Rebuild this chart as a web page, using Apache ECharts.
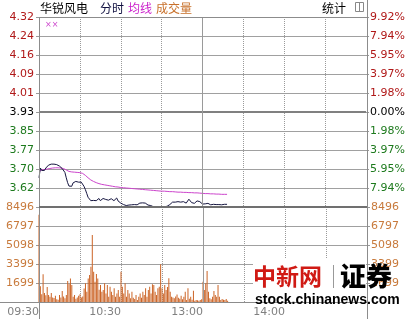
<!DOCTYPE html>
<html>
<head>
<meta charset="utf-8">
<script src="https://cdn.jsdelivr.net/npm/echarts@6/dist/echarts.min.js"></script>
<style>
html,body{margin:0;padding:0;background:#fff;}
#main{width:408px;height:319px;}
</style>
</head>
<body>
<div id="main"></div>
<script>
// ---- data ----
const priceValues = [
3.66,3.70,3.69,3.685,3.69,3.70,3.705,3.712,3.716,3.716,
3.716,3.716,3.716,3.714,3.710,3.708,3.703,3.698,3.692,3.682,
3.660,3.640,3.626,3.634,3.625,3.639,3.632,3.645,3.646,3.642,
3.636,3.642,3.634,3.625,3.612,3.596,3.580,3.572,3.566,3.569,
3.567,3.570,3.566,3.570,3.575,3.566,3.572,3.575,3.567,3.571,
3.575,3.568,3.570,3.574,3.572,3.566,3.570,3.577,3.565,3.560,
3.556,3.548,3.550,3.548,3.546,3.550,3.548,3.552,3.549,3.546,
3.550,3.553,3.549,3.552,3.556,3.554,3.557,3.553,3.556,3.550,
3.548,3.550,3.546,3.543,3.541,3.542,3.541,3.541,3.542,3.541,
3.541,3.542,3.541,3.541,3.543,3.541,3.550,3.557,3.560,3.561,
3.560,3.561,3.562,3.561,3.560,3.561,3.562,3.560,3.556,3.563,
3.572,3.564,3.558,3.562,3.555,3.560,3.565,3.558,3.562,3.554,
3.552,3.550,3.553,3.550,3.555,3.552,3.549,3.554,3.551,3.556,
3.550,3.555,3.550,3.553,3.549,3.554,3.551,3.552,3.551
];
const avgValues = [
3.685,3.690,3.692,3.693,3.694,3.695,
3.696,3.697,3.698,3.699,3.700,3.700,3.701,3.701,3.701,3.701,3.700,3.699,3.698,
3.696,3.692,3.688,3.686,3.685,3.684,3.684,3.683,3.683,3.682,3.682,3.681,3.680,3.678,3.675,
3.670,3.665,3.660,3.655,3.651,3.648,3.645,3.642,3.640,3.638,3.636,3.634,3.633,3.632,3.631,3.630,3.629,3.628,3.627,3.626,3.625,3.624,3.623,3.623,3.622,3.621,3.620,
3.619,3.619,3.618,3.618,3.617,3.617,3.616,3.616,3.615,3.615,
3.614,3.614,3.613,3.613,3.612,3.612,3.611,3.611,3.610,3.610,3.609,3.609,3.608,3.608,3.607,3.607,3.606,3.606,3.606,3.605,3.605,3.605,3.604,3.604,3.604,
3.603,3.603,3.603,3.602,3.602,3.602,3.601,3.601,3.601,3.600,3.600,3.600,3.600,3.599,3.599,3.599,3.599,3.598,3.598,3.598,3.598,3.597,3.597,3.597,3.596,
3.596,3.595,3.595,3.595,3.594,3.594,3.594,3.594,3.593,3.593,3.593,3.593,3.592,3.592,3.592,3.592,3.592,3.592
];
const volumeValues = [
7800,1400,700,2480,800,600,1340,630,480,800,
400,360,560,250,200,630,400,980,500,330,
630,1880,1600,2100,1520,480,630,300,400,560,
700,400,500,1200,1670,920,2100,2410,3160,5990,
2710,1800,2500,2100,1100,1520,920,1070,1670,770,
1520,480,1370,920,630,1220,480,770,1070,480,
2710,1370,770,1670,480,1070,770,330,920,390,
270,630,180,480,770,390,920,630,1220,480,
1070,1370,770,1580,1520,920,630,1220,1370,3370,
1220,770,1520,1070,1340,2120,920,480,400,330,
500,680,390,300,560,250,480,920,180,1220,
300,480,200,1000,120,180,150,120,180,250,
1820,1070,1670,2770,920,330,250,480,980,630,
480,1520,480,180,270,200,180,270,120
];
const priceTickLabels = ['', '3.62', '3.70', '3.77', '3.85', '3.93', '4.01', '4.09', '4.16', '4.24', '4.32'];
const pctTickLabels = ['', '7.94%', '5.95%', '3.97%', '1.98%', '0.00%', '1.98%', '3.97%', '5.95%', '7.94%', '9.92%'];
const volTickLabels = ['', '1699', '3399', '5098', '6797', '8496'];
const timeTickLabels = {0: '09:30', 60: '10:30', 120: '13:00', 180: '14:00'};
const prevClose = 3.93;
const priceMin = 3.54, priceMax = 4.32;
const pctLimit = 9.92, pctStep = 1.984;
const volMax = 8496, volStep = 1699.2;

// minute categories 09:30-11:30, 13:01-15:00
const categories = [];
function pad(n){return (n<10?'0':'')+n;}
for (let m = 9*60+30; m <= 11*60+30; m++) categories.push(pad(Math.floor(m/60))+':'+pad(m%60));
for (let m = 13*60+1; m <= 15*60; m++) categories.push(pad(Math.floor(m/60))+':'+pad(m%60));

const RED = '#b01818', GREEN = '#1d7a1d', BLACK = '#000', ORANGE = '#c87a3c';
const FONT = 'DejaVu Sans';
const CJK = '"Noto Sans CJK SC"';

function tickRich(){
  return {
    r: {color: RED, fontFamily: FONT, fontSize: 11},
    g: {color: GREEN, fontFamily: FONT, fontSize: 11},
    k: {color: BLACK, fontFamily: FONT, fontSize: 11},
    o: {color: ORANGE, fontFamily: FONT, fontSize: 11}
  };
}
function priceFmt(arr){
  return function(v, i){
    const t = arr[i];
    if (!t) return '';
    const s = i > 5 ? 'r' : (i === 5 ? 'k' : 'g');
    return '{' + s + '|' + t + '}';
  };
}
function volFmt(v, i){ const t = volTickLabels[i]; return t ? '{o|' + t + '}' : ''; }

const vSplit = function(index){ return index % 30 === 0 && index !== 0 && index !== 120 && index !== 240; };

const chart = echarts.init(document.getElementById('main'), null, {renderer: 'canvas'});
const L = 39, R = 367, T = 17, MID = 207, B = 302;

chart.setOption({
  animation: false,
  backgroundColor: '#fff',
  grid: [
    {left: L, top: T, width: R - L, height: MID - T},
    {left: L, top: MID, width: R - L, height: B - MID}
  ],
  xAxis: [
    {type: 'category', gridIndex: 0, data: categories, boundaryGap: false,
     axisLine: {show: false}, axisTick: {show: false}, axisLabel: {show: false},
     splitLine: {show: true, interval: vSplit, lineStyle: {color: '#9a9a9a', type: 'dotted', width: 1}}},
    {type: 'category', gridIndex: 1, data: categories, boundaryGap: false,
     axisLine: {show: false}, axisTick: {show: false},
     axisLabel: {show: true, interval: function(i){ return timeTickLabels[i] !== undefined; },
       formatter: function(v, i){ return timeTickLabels[i] || ''; },
       align: 'right', margin: 5, color: '#808080', fontFamily: FONT, fontSize: 11},
     splitLine: {show: true, interval: vSplit, lineStyle: {color: '#9a9a9a', type: 'dotted', width: 1}}}
  ],
  yAxis: [
    // price scale (data positions)
    {type: 'value', gridIndex: 0, position: 'left', min: priceMin, max: priceMax, show: false,
     splitLine: {show: false}},
    // left labels: same span expressed as change from previous close
    {type: 'value', gridIndex: 0, position: 'left', min: -pctLimit, max: pctLimit, interval: pctStep,
     axisLine: {show: false}, axisTick: {show: true, length: 3, lineStyle: {color: '#999'}},
     axisLabel: {formatter: priceFmt(priceTickLabels), rich: tickRich(), margin: 5},
     splitLine: {show: true, lineStyle: {color: '#a0a0a0', width: 1}}},
    {type: 'value', gridIndex: 0, position: 'right', min: -pctLimit, max: pctLimit, interval: pctStep,
     axisLine: {show: false}, axisTick: {show: true, length: 3, lineStyle: {color: '#999'}},
     axisLabel: {formatter: priceFmt(pctTickLabels), rich: tickRich(), margin: 4},
     splitLine: {show: false}},
    {type: 'value', gridIndex: 1, position: 'left', min: 0, max: volMax, interval: volStep,
     axisLine: {show: false}, axisTick: {show: true, length: 3, lineStyle: {color: '#999'}},
     axisLabel: {formatter: volFmt, rich: tickRich(), margin: 5},
     splitLine: {show: true, lineStyle: {color: '#a0a0a0', width: 1}}},
    {type: 'value', gridIndex: 1, position: 'right', min: 0, max: volMax, interval: volStep,
     axisLine: {show: false}, axisTick: {show: true, length: 3, lineStyle: {color: '#999'}},
     axisLabel: {formatter: volFmt, rich: tickRich(), margin: 4},
     splitLine: {show: false}}
  ],
  series: [
    {name: '均线', type: 'line', xAxisIndex: 0, yAxisIndex: 0, data: avgValues, showSymbol: false, symbol: 'none',
     lineStyle: {color: '#cc44cc', width: 1}, z: 3,
     markLine: {silent: true, symbol: 'none', label: {show: false},
       data: [{yAxis: prevClose, lineStyle: {color: '#808080', width: 2, type: 'solid'}},
              {xAxis: 120, lineStyle: {color: '#9a9a9a', width: 1, type: 'solid'}}]}},
    {name: '分时', type: 'line', xAxisIndex: 0, yAxisIndex: 0, data: priceValues, showSymbol: false, symbol: 'none',
     lineStyle: {color: '#161640', width: 1}, z: 4},
    {name: '成交量', type: 'bar', xAxisIndex: 1, yAxisIndex: 3, data: volumeValues, barWidth: 1,
     itemStyle: {color: '#cc6426'},
     markLine: {silent: true, symbol: 'none', label: {show: false},
       data: [{xAxis: 120, lineStyle: {color: '#9a9a9a', width: 1, type: 'solid'}}]}}
  ],
  graphic: [
    // frame lines
    {type: 'line', z: 50, silent: true, shape: {x1: L, y1: T + 0.5, x2: R, y2: T + 0.5}, style: {stroke: '#8c8c8c', lineWidth: 1}},
    {type: 'line', z: 50, silent: true, shape: {x1: L + 0.5, y1: T, x2: L + 0.5, y2: 319}, style: {stroke: '#8c8c8c', lineWidth: 1}},
    {type: 'line', z: 50, silent: true, shape: {x1: R + 0.5, y1: 0, x2: R + 0.5, y2: 319}, style: {stroke: '#8c8c8c', lineWidth: 1}},
    {type: 'line', z: 50, silent: true, shape: {x1: 0, y1: B + 0.5, x2: R, y2: B + 0.5}, style: {stroke: '#8c8c8c', lineWidth: 1}},
    {type: 'line', z: 50, silent: true, shape: {x1: L, y1: MID, x2: R, y2: MID}, style: {stroke: '#707070', lineWidth: 2}},
    // header
    {type: 'text', z: 60, style: {text: '华锐风电', x: 40, y: 8, verticalAlign: 'middle', fill: '#000', font: '12px ' + CJK}},
    {type: 'text', z: 60, style: {text: '分时', x: 100, y: 8, verticalAlign: 'middle', fill: '#101040', font: '12px ' + CJK}},
    {type: 'text', z: 60, style: {text: '均线', x: 128, y: 8, verticalAlign: 'middle', fill: '#cc22cc', font: '12px ' + CJK}},
    {type: 'text', z: 60, style: {text: '成交量', x: 156, y: 8, verticalAlign: 'middle', fill: '#c8702a', font: '12px ' + CJK}},
    {type: 'text', z: 60, style: {text: '统计', x: 322, y: 8, verticalAlign: 'middle', fill: '#000', font: '12px ' + CJK}},
    {type: 'rect', z: 60, shape: {x: 355.5, y: 2.5, width: 8, height: 9}, style: {fill: '#fff', stroke: '#888', lineWidth: 1}},
    {type: 'line', z: 60, shape: {x1: 359.5, y1: 3, x2: 359.5, y2: 11}, style: {stroke: '#888', lineWidth: 1}},
    {type: 'text', z: 60, style: {text: '××', x: 45, y: 25, verticalAlign: 'middle', fill: '#cc44cc', font: '8px ' + FONT}},
    // watermark
    {type: 'rect', z: 70, silent: true, shape: {x: 253, y: 258, width: 113, height: 44}, style: {fill: '#fff'}},
    {type: 'text', z: 71, style: {text: '中新网', x: 253, y: 276, verticalAlign: 'middle', fill: '#d01a14', font: 'bold 23px ' + CJK}},
    {type: 'line', z: 71, shape: {x1: 333.5, y1: 265, x2: 333.5, y2: 288}, style: {stroke: '#999', lineWidth: 1}},
    {type: 'text', z: 71, style: {text: '证券', x: 340, y: 276, verticalAlign: 'middle', fill: '#000', font: '900 26px ' + CJK}},
    {type: 'text', z: 71, style: {text: 'stock.chinanews.com', x: 255, y: 300, verticalAlign: 'middle', fill: '#000', font: 'bold 14px "Liberation Sans"'}}
  ]
});
</script>
</body>
</html>
